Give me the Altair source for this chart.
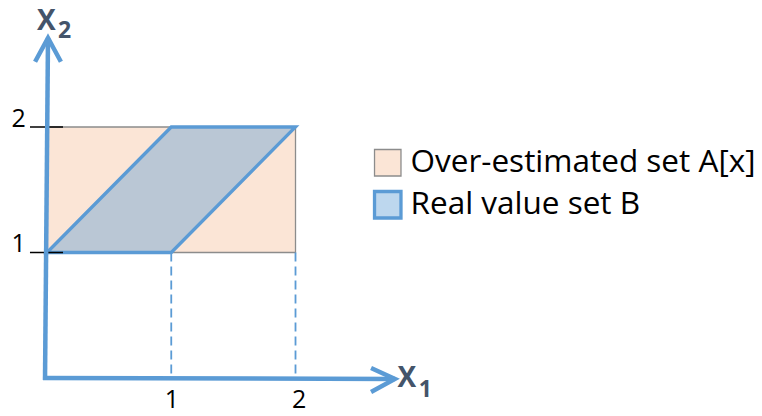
import altair as alt
import pandas as pd

# ---------------- data ----------------
series_names = ["Over-estimated set A[x]", "Real value set B"]
rect_x = [0, 2]            # over-estimated set A[x]: x range
rect_y = [1, 2]            # over-estimated set A[x]: y range
para_x = [0, 1, 2]         # real value set B (parallelogram)
para_upper = [1, 2, 2]
para_lower = [1, 1, 2]
tick_values = [1, 2]
tick_labels = ["1", "2"]
axis_letter = ["X", "X"]
axis_subs = ["1", "2"]

# ---------------- styles ----------------
PEACH = "#FBE5D6"
BLUE = "#5B9BD5"
LIGHTBLUE = "#BDD7EE"
GRAY = "#8C8C8C"
DARK = "#44546A"
FONT = "Open Sans"

W, H = 746, 408
x_dom = [-0.3139, 5.6901]
y_dom = [-0.3028, 2.9482]
xs = alt.Scale(domain=x_dom, nice=False, zero=False)
ys = alt.Scale(domain=y_dom, nice=False, zero=False)


def X(f="x"):
    return alt.X(f, type="quantitative", scale=xs, axis=None)


def Y(f="y"):
    return alt.Y(f, type="quantitative", scale=ys, axis=None)


leg = alt.Legend(
    title=None, orient="none", legendX=364, legendY=139, direction="vertical",
    symbolType="square", symbolSize=700, labelFont=FONT, labelFontSize=31.5,
    labelColor="black", labelOffset=7, rowPadding=5, padding=0, labelLimit=600,
)
fill_enc = alt.Fill("series:N", scale=alt.Scale(domain=series_names, range=[PEACH, LIGHTBLUE]), legend=leg)
stroke_enc = alt.Stroke("series:N", scale=alt.Scale(domain=series_names, range=[GRAY, BLUE]), legend=leg)
sw_enc = alt.StrokeWidth("series:O", scale=alt.Scale(domain=series_names, range=[1.3, 3.3]), legend=leg)

df_rect = pd.DataFrame({"x": [rect_x[0]], "x2": [rect_x[1]], "y": [rect_y[0]], "y2": [rect_y[1]],
                        "series": [series_names[0]]})
rect = alt.Chart(df_rect).mark_rect().encode(
    x=X("x"), x2="x2", y=Y("y"), y2="y2", fill=fill_enc, stroke=stroke_enc, strokeWidth=sw_enc)

df_para = pd.DataFrame({"x": para_x, "y": para_upper, "y2": para_lower, "series": series_names[1]})
para = alt.Chart(df_para).mark_area(interpolate="linear", fill=BLUE, fillOpacity=0.4).encode(
    x=X("x"), y=Y("y"), y2="y2", stroke=stroke_enc, strokeWidth=sw_enc)

# dashed projections to the x axis
df_dash = pd.DataFrame({"x": tick_values, "y": [rect_y[0]] * 2, "y2": [0, 0]})
dash = alt.Chart(df_dash).mark_rule(color=BLUE, strokeWidth=1.8, strokeDash=[9, 5]).encode(
    x=X("x"), y=Y("y"), y2="y2")

# y ticks
df_ytick = pd.DataFrame({"y": tick_values, "x": [-0.137] * 2, "x2": [0.129] * 2})
ytick = alt.Chart(df_ytick).mark_rule(color="black", strokeWidth=1.5).encode(
    x=X("x"), x2="x2", y=Y("y"))

# axis arrows
axes_rows = [
    ("yshaft", 0, -0.016, -0.016), ("yshaft", 1, 0.008, 2.71),
    ("yhead", 0, -0.096, 2.52), ("yhead", 1, 0.008, 2.71), ("yhead", 2, 0.112, 2.52),
    ("xshaft", 0, -0.032, 0.0), ("xshaft", 1, 2.80, -0.008),
    ("xhead", 0, 2.608, 0.08), ("xhead", 1, 2.80, -0.008), ("xhead", 2, 2.608, -0.112),
]
df_axes = pd.DataFrame(axes_rows, columns=["seg", "o", "x", "y"])
axes = alt.Chart(df_axes).mark_line(color=BLUE, strokeWidth=4.5, strokeJoin="miter").encode(
    x=X("x"), y=Y("y"), detail="seg:N", order="o:Q")

# tick labels
df_ylab = pd.DataFrame({"y": tick_values, "t": tick_labels, "x": [-0.17] * 2})
ylab = alt.Chart(df_ylab).mark_text(align="right", baseline="alphabetic", font=FONT,
                                    fontSize=25, color="black").encode(x=X("x"), y=Y("y"), text="t:N")
df_xlab = pd.DataFrame({"x": [1.005, 2.03], "t": tick_labels, "y": [-0.243] * 2})
xlab = alt.Chart(df_xlab).mark_text(align="center", baseline="alphabetic", font=FONT,
                                    fontSize=25, color="black").encode(x=X("x"), y=Y("y"), text="t:N")

# axis names X1, X2
df_name = pd.DataFrame({"x": [2.821, -0.0805], "y": [-0.069, 2.773], "t": axis_letter})
name = alt.Chart(df_name).mark_text(align="left", baseline="alphabetic", font=FONT, fontSize=28,
                                    fontWeight="bold", color=DARK).encode(x=X("x"), y=Y("y"), text="t:N")
df_sub = pd.DataFrame({"x": [2.992, 0.0885], "y": [-0.154, 2.709], "t": axis_subs})
sub = alt.Chart(df_sub).mark_text(align="left", baseline="alphabetic", font=FONT, fontSize=23,
                                  fontWeight="bold", color=DARK).encode(x=X("x"), y=Y("y"), text="t:N")

chart = alt.layer(rect, para, dash, ytick, axes, ylab, xlab, name, sub).properties(
    width=W, height=H, padding=0, autosize=alt.AutoSizeParams(type="none"), background="white"
).configure_view(stroke=None)

chart.save("out.html", embed_options={"renderer": "svg", "actions": False})
